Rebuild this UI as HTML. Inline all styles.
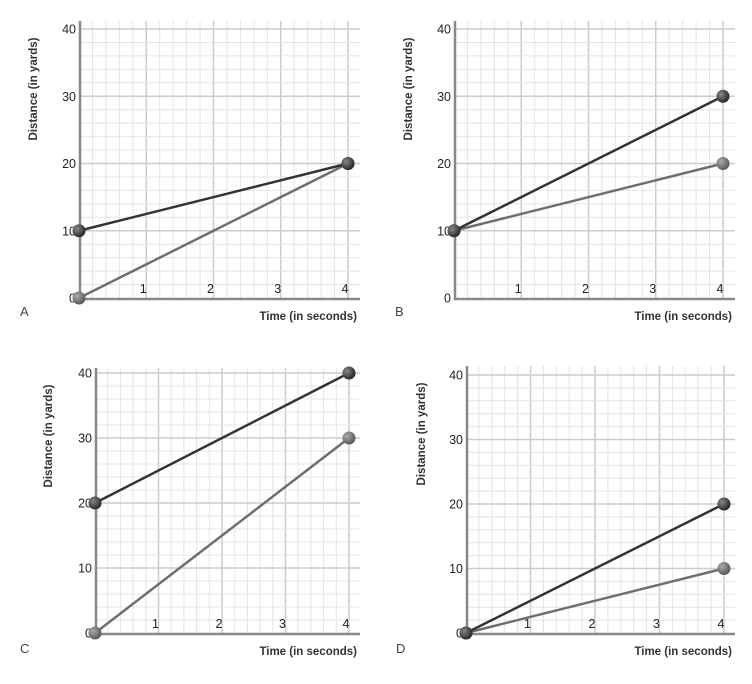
<!DOCTYPE html>
<html><head><meta charset="utf-8"><style>
html,body{margin:0;padding:0;background:#fff;}
svg{display:block;font-family:"Liberation Sans",sans-serif;}
</style></head><body>
<svg id="chart" width="752" height="684" viewBox="0 0 752 684" xmlns="http://www.w3.org/2000/svg">
<defs>
<radialGradient id="dotDark" cx="0.35" cy="0.35" r="0.7"><stop offset="0" stop-color="#888"/><stop offset="1" stop-color="#222"/></radialGradient>
<radialGradient id="dotLight" cx="0.35" cy="0.35" r="0.7"><stop offset="0" stop-color="#aaa"/><stop offset="1" stop-color="#555"/></radialGradient>
</defs>
</svg>
<script>
const panelLetters = ["A","B","C","D"];
const xTicks = [1,2,3,4];
const yTicks = [0,10,20,30,40];
const darkStart = [10,10,20,0];
const darkEnd = [20,30,40,20];
const lightStart = [0,10,0,0];
const lightEnd = [20,20,30,10];
const timeStart = 0, timeEnd = 4;

const layout = [
  {ox:79,oy:298,x4:348,y40:29,right:360,top:21,lx:20,ly:316,yt:37},
  {ox:454,oy:298,x4:723,y40:29,right:735,top:21,lx:395,ly:316,yt:412},
  {ox:95,oy:633,x4:349,y40:373,right:360,top:368,lx:20,ly:653,yt:52},
  {ox:466,oy:633,x4:724,y40:375,right:735,top:366,lx:396,ly:653,yt:425}
];
const svg = document.getElementById('chart');
const NS = 'http://www.w3.org/2000/svg';
function mk(tag, attrs, parent){const e=document.createElementNS(NS,tag);for(const k in attrs)e.setAttribute(k,attrs[k]);(parent||svg).appendChild(e);return e;}

layout.forEach((L,i)=>{
  const g = mk('g',{});
  
  
  const xs = t => L.ox + (t/4)*(L.x4-L.ox);
  const ys = v => L.oy - (v/40)*(L.oy-L.y40);
  for(let t=0.2;xs(t)<=L.right+1;t+=0.2){
    const major = Math.abs(t-Math.round(t))<0.01;
    const l = mk('line',{x1:xs(t),x2:xs(t),y1:L.top,y2:L.oy,stroke:major?'#ccc':'#e4e4e4','stroke-width':major?1.5:1},g);
    
    
  }
  for(let v=2;ys(v)>=L.top-1;v+=2){
    const major = v%10===0;
    const l = mk('line',{x1:L.ox,x2:L.right,y1:ys(v),y2:ys(v),stroke:major?'#ccc':'#e4e4e4','stroke-width':major?1.5:1},g);
    
    
  }
  const ax = mk('path',{d:`M${L.ox+1} ${L.top} V${L.oy+1} H${L.right}`,stroke:'#888','stroke-width':2.5,fill:'none'},g);
  
  
  xTicks.forEach(t=>{
    const tx = mk('text',{x:xs(t)-3,y:L.oy-5,'font-size':12.5,'text-anchor':'middle',fill:'#222'},g);
    tx.textContent=t;
    
    
  });
  yTicks.forEach(v=>{
    const tx = mk('text',{x:L.ox-3,y:ys(v)+4.5,'font-size':12.5,'text-anchor':'end',fill:'#222'},g);
    tx.textContent=v;
    
    
  });
  const xt = mk('text',{x:L.right-3,y:L.oy+22,'font-size':11.5,'font-weight':'bold','text-anchor':'end',fill:'#333'},g);
  xt.textContent='Time (in seconds)';
  
  
  const cy = L.top+68;
  const yt = mk('text',{x:L.yt,y:cy,'font-size':11.5,'font-weight':'bold','text-anchor':'middle',fill:'#333',transform:`rotate(-90 ${L.yt} ${cy})`},g);
  yt.textContent='Distance (in yards)';
  
  
  const lt = mk('text',{x:L.lx,y:L.ly,'font-size':13,fill:'#444'},g);
  lt.textContent=panelLetters[i];
  
  
  const series=[[lightStart[i],lightEnd[i],'#6e6e6e','url(#dotLight)','light'],[darkStart[i],darkEnd[i],'#333','url(#dotDark)','dark']];
  series.forEach(s=>{
    const ln = mk('line',{x1:xs(timeStart),y1:ys(s[0]),x2:xs(timeEnd),y2:ys(s[1]),stroke:s[2],'stroke-width':2.5},g);
    
    
  });
  series.forEach(s=>{
    [[timeStart,s[0]],[timeEnd,s[1]]].forEach(p=>{
      const c = mk('circle',{cx:xs(p[0]),cy:ys(p[1]),r:6.5,fill:s[3]},g);
      
      
    });
  });
});
</script>
</body></html>
